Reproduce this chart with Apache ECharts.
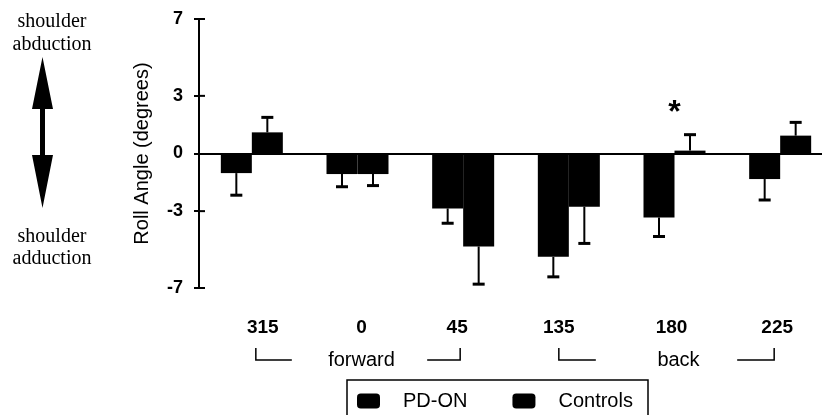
<!DOCTYPE html>
<html>
<head>
<meta charset="utf-8">
<script src="https://cdn.jsdelivr.net/npm/echarts@6/dist/echarts.min.js"></script>
<style>
  html, body { margin: 0; padding: 0; background: #fff; }
  #chart { width: 822px; height: 415px; }
</style>
</head>
<body>
<div id="chart"></div>
<script>
// Movement direction (degrees) for each pair of bars
const directions = ['315', '0', '45', '135', '180', '225'];

// Mean roll angle (degrees) per group
const pdOn = [-1.02, -1.07, -2.86, -5.38, -3.33, -1.33];
const controls = [1.10, -1.07, -4.84, -2.77, 0.15, 0.93];

// Standard error for each mean
const pdOnErr = [1.15, 0.66, 0.77, 1.04, 0.99, 1.09];
const controlsErr = [0.78, 0.60, 1.96, 1.91, 0.83, 0.69];

// Y axis tick values
const yTicks = [-7, -3, 0, 3, 7];

// Where the significance marker sits
const starDirection = '180';
const starLevel = 2.1;

const INK = '#000';
const SANS = '"Liberation Sans", Arial, Helvetica, sans-serif';
const SERIF = '"Liberation Serif", "Times New Roman", serif';
const BAR_W = 31;

// small horizontal nudges of the direction labels (px)
const labelShift = [11, 4, -6, -10, -3, -3];

const chart = echarts.init(document.getElementById('chart'), null, { renderer: 'canvas' });

function errorBars(values, errs, offset) {
  return {
    type: 'custom',
    silent: true,
    z: 3,
    data: values.map((v, i) => [i, v, errs[i]]),
    renderItem(params, api) {
      const idx = api.value(0);
      const v = api.value(1);
      const e = api.value(2);
      const end = v >= 0 ? v + e : v - e;
      const base = api.coord([idx, v]);
      const tip = api.coord([idx, end]);
      const x = base[0] + offset;
      return {
        type: 'group',
        children: [
          { type: 'line', shape: { x1: x, y1: base[1], x2: x, y2: tip[1] },
            style: { stroke: INK, lineWidth: 2 } },
          { type: 'line', shape: { x1: x - 6, y1: tip[1], x2: x + 6, y2: tip[1] },
            style: { stroke: INK, lineWidth: 3 } }
        ]
      };
    }
  };
}

const rich = {};
labelShift.forEach((s, i) => {
  rich['d' + i] = {
    fontFamily: SANS, fontSize: 19, fontWeight: 'bold', color: INK,
    padding: s >= 0 ? [0, 0, 0, 2 * s] : [0, -2 * s, 0, 0]
  };
});

chart.setOption({
  animation: false,
  backgroundColor: '#fff',
  grid: { left: 199, top: 19, width: 634, height: 269, outerBoundsMode: 'none', containLabel: false },
  legend: {
    data: ['PD-ON', 'Controls'],
    left: 347,
    top: 380,
    padding: [11, 16, 4, 10],
    itemGap: 45,
    itemWidth: 23,
    itemHeight: 15,
    icon: 'roundRect',
    selectedMode: false,
    textStyle: { fontFamily: SANS, fontSize: 20, color: INK, padding: [0, 0, 0, 18] }
  },
  xAxis: {
    type: 'category',
    data: directions,
    axisLine: { show: false },
    axisTick: { show: false },
    axisLabel: {
      margin: 30,
      formatter: (val, i) => '{d' + i + '|' + val + '}',
      rich
    },
    splitLine: { show: false }
  },
  yAxis: {
    type: 'value',
    min: -7,
    max: 7,
    name: 'Roll Angle (degrees)',
    nameLocation: 'middle',
    nameGap: 47,
    nameTextStyle: { fontFamily: SANS, fontSize: 20, color: INK },
    axisLine: { show: true, lineStyle: { color: INK, width: 2 } },
    axisTick: { show: true, length: 5, customValues: yTicks, lineStyle: { color: INK, width: 2 } },
    axisLabel: {
      customValues: yTicks,
      margin: 16,
      fontFamily: SANS, fontSize: 18, fontWeight: 'bold', color: INK
    },
    splitLine: { show: false }
  },
  series: [
    {
      name: 'PD-ON',
      type: 'bar',
      data: pdOn,
      barWidth: BAR_W,
      barGap: '0%',
      itemStyle: { color: INK },
      z: 2,
      markLine: {
        silent: true,
        symbol: 'none',
        label: { show: false },
        lineStyle: { color: INK, width: 2, type: 'solid' },
        data: [{ yAxis: 0 }]
      }
    },
    {
      name: 'Controls',
      type: 'bar',
      data: controls,
      barWidth: BAR_W,
      barGap: '0%',
      itemStyle: { color: INK },
      z: 2
    },
    errorBars(pdOn, pdOnErr, -BAR_W / 2),
    errorBars(controls, controlsErr, BAR_W / 2)
  ]
});

// Annotations placed from the axis scales
function px(cat, val) {
  return chart.convertToPixel({ xAxisIndex: 0, yAxisIndex: 0 }, [cat, val]);
}
const cx = directions.map(d => px(d, 0)[0]);
const axisX = cx[0] - (cx[1] - cx[0]) / 2;
const star = px(starDirection, starLevel);
const BR_TOP = 348, BR_BOT = 360;

function bracket(xStart, xEnd, hookLeft) {
  return {
    type: 'polyline',
    shape: { points: hookLeft
      ? [[xStart, BR_TOP], [xStart, BR_BOT], [xEnd, BR_BOT]]
      : [[xStart, BR_BOT], [xEnd, BR_BOT], [xEnd, BR_TOP]] },
    style: { stroke: INK, lineWidth: 1.5, fill: null }
  };
}

function note(text, x, y) {
  return { type: 'text', x, y, style: { text, font: '20px ' + SERIF, fill: INK, align: 'center', verticalAlign: 'middle' } };
}

// inner half of the crossing tick marks
const innerTicks = yTicks.filter(t => t !== 0).map(t => {
  const y = px(directions[0], t)[1];
  return { type: 'line', shape: { x1: axisX, y1: y, x2: axisX + 6, y2: y }, style: { stroke: INK, lineWidth: 2 }, z: 10 };
});

chart.setOption({
  graphic: [
    // side notes on the direction of roll
    note('shoulder', 52, 22),
    note('abduction', 52, 45),
    note('shoulder', 52, 237),
    note('adduction', 52, 259),
    {
      type: 'polygon',
      shape: { points: [
        [42.5, 57], [53, 109], [45, 109], [45, 155], [53, 155], [42.5, 208],
        [32, 155], [40, 155], [40, 109], [32, 109]
      ] },
      style: { fill: INK }
    },
    ...innerTicks,
    // direction groupings under the axis
    bracket(cx[0] + 4, cx[0] + 40, true),
    { type: 'text', x: cx[1] + 4, y: 360, style: { text: 'forward', font: '20px ' + SANS, fill: INK, align: 'center', verticalAlign: 'middle' } },
    bracket(cx[2] - 36, cx[2] - 3, false),
    bracket(cx[3] - 10, cx[3] + 27, true),
    { type: 'text', x: cx[4] + 4, y: 360, style: { text: 'back', font: '20px ' + SANS, fill: INK, align: 'center', verticalAlign: 'middle' } },
    bracket(cx[5] - 43, cx[5] - 6, false),
    // significance marker
    { type: 'text', x: star[0], y: star[1], style: { text: '*', font: 'bold 32px ' + SANS, fill: INK, align: 'center', verticalAlign: 'middle' } },
    // legend frame, running off the lower edge
    { type: 'rect', shape: { x: 347, y: 380, width: 301, height: 60 }, style: { fill: null, stroke: INK, lineWidth: 1.5 }, z: 10 }
  ]
});
</script>
</body>
</html>
